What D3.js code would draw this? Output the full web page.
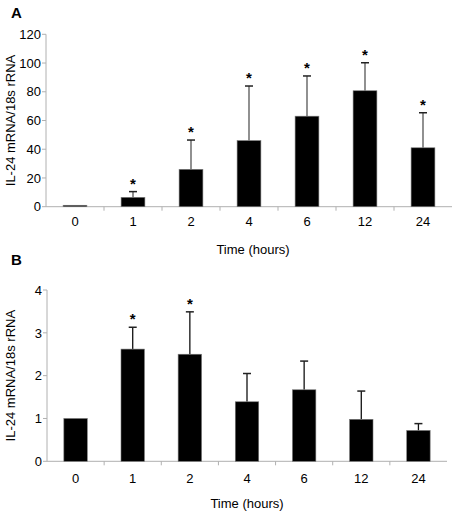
<!DOCTYPE html>
<html><head><meta charset="utf-8">
<script src="https://cdn.jsdelivr.net/npm/d3@7"></script>
<style>body{margin:0;background:#fff}svg{display:block}text{font-family:"Liberation Sans",Arial,sans-serif;fill:#000}</style>
</head><body><svg id="c" width="453" height="514"></svg>
<script>
const categories = ["0","1","2","4","6","12","24"];
const valuesA = [1, 6.5, 26, 46, 63, 80.7, 41];
const errorsA = [0, 4, 20.4, 38, 28, 19.5, 24.4];
const starsA = [false, true, true, true, true, true, true];
const ticksA = [0,20,40,60,80,100,120];
const valuesB = [1, 2.62, 2.5, 1.39, 1.67, 0.98, 0.72];
const errorsB = [0, 0.51, 0.99, 0.66, 0.67, 0.66, 0.16];
const starsB = [false, true, true, false, false, false, false];
const ticksB = [0,1,2,3,4];
const yTitle = "IL-24 mRNA/18s rRNA";
const xTitle = "Time (hours)";

const svg = d3.select("#c");

function panel(o){
  const g = svg.append("g");
  const x = d3.scaleBand().domain(categories).range([o.x0, o.x1]).paddingInner(0.59).paddingOuter(0.295);
  const xb = d3.scaleBand().domain(categories).range([o.x0, o.x1]);
  const y = d3.scaleLinear().domain([0, o.max]).range([o.y0, o.y1]);
  const axc = "#b0b0b0";
  g.append("line").attr("x1",o.x0).attr("x2",o.x0).attr("y1",y(0)).attr("y2",y(o.max)).attr("stroke",axc);
  g.selectAll(".yt").data(o.ticks).enter().append("line")
    .attr("x1",o.x0-4).attr("x2",o.x0).attr("y1",d=>y(d)).attr("y2",d=>y(d)).attr("stroke",axc);
  g.selectAll(".yl").data(o.ticks).enter().append("text")
    .attr("x",o.x0-5).attr("y",d=>y(d)).attr("dy","0.36em").attr("text-anchor","end")
    .attr("font-size",13).text(d=>d);
  g.append("line").attr("x1",o.x0).attr("x2",o.x1).attr("y1",y(0)).attr("y2",y(0)).attr("stroke",axc);
  g.selectAll(".xt").data(categories.slice(1)).enter().append("line")
    .attr("x1",d=>xb(d)).attr("x2",d=>xb(d)).attr("y1",y(0)).attr("y2",y(0)+4).attr("stroke",axc);
  g.selectAll(".xl").data(categories).enter().append("text")
    .attr("x",d=>x(d)+x.bandwidth()/2).attr("y",o.xl).attr("text-anchor","middle").attr("font-size",13).text(d=>d);
  const idx = d3.range(categories.length);
  g.selectAll(".el").data(idx.filter(i=>o.err[i]>0)).enter().append("line")
    .attr("x1",i=>x(categories[i])+x.bandwidth()/2).attr("x2",i=>x(categories[i])+x.bandwidth()/2)
    .attr("y1",i=>y(o.vals[i])).attr("y2",i=>y(o.vals[i]+o.err[i])).attr("stroke",o.errColor).attr("stroke-width",1.3);
  g.selectAll(".ec").data(idx.filter(i=>o.err[i]>0)).enter().append("line")
    .attr("x1",i=>x(categories[i])+x.bandwidth()/2-4).attr("x2",i=>x(categories[i])+x.bandwidth()/2+4)
    .attr("y1",i=>y(o.vals[i]+o.err[i])).attr("y2",i=>y(o.vals[i]+o.err[i])).attr("stroke","#222").attr("stroke-width",1.5);
  g.selectAll(".b").data(idx).enter().append("rect")
    .attr("x",i=>x(categories[i])).attr("width",x.bandwidth())
    .attr("y",i=>y(o.vals[i])).attr("height",i=>y(0)-y(o.vals[i]))
    .attr("fill","#000").attr("stroke","#777").attr("stroke-width",0.6);
  g.selectAll(".s").data(idx.filter(i=>o.stars[i])).enter().append("text")
    .attr("x",i=>x(categories[i])+x.bandwidth()/2).attr("y",i=>y(o.vals[i]+o.err[i])-3)
    .attr("text-anchor","middle").attr("font-size",15).attr("font-weight","bold").text("*");
  g.append("text").attr("x",o.xtX).attr("y",o.xtY).attr("text-anchor","middle").attr("font-size",13).text(xTitle);
  g.append("text").attr("transform",`translate(${o.ytX},${(y(0)+y(o.max))/2}) rotate(-90)`)
    .attr("text-anchor","middle").attr("font-size",13).text(yTitle);
  g.append("text").attr("x",o.lx).attr("y",o.ly).attr("font-size",15).attr("font-weight","bold").text(o.label);
}

panel({x0:46, x1:452, y0:206.7, y1:34.3, max:120, ticks:ticksA, vals:valuesA, err:errorsA, stars:starsA,
  errColor:"#555", xl:226, xtX:253, xtY:254, ytX:15, lx:11, ly:18, label:"A"});
panel({x0:47, x1:447, y0:461.3, y1:290, max:4, ticks:ticksB, vals:valuesB, err:errorsB, stars:starsB,
  errColor:"#111", xl:483, xtX:247, xtY:508, ytX:15, lx:11, ly:265, label:"B"});
</script></body></html>
